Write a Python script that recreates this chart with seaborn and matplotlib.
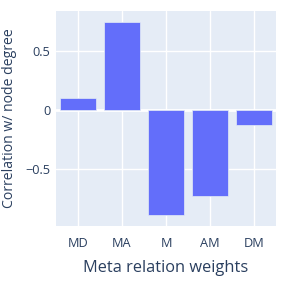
import matplotlib
matplotlib.use("Agg")
import matplotlib.pyplot as plt
import seaborn as sns
import pandas as pd

# values
relations = ["MD", "MA", "M", "AM", "DM"]
correlation = [0.099, 0.739, -0.887, -0.727, -0.124]

df = pd.DataFrame({"relation": relations, "corr": correlation})

sns.set_style("darkgrid")
plt.rcParams["font.family"] = ["Open Sans", "DejaVu Sans"]
plt.rcParams["axes.unicode_minus"] = True

text_col = "#2a3f5f"
bg = "#E5ECF6"

fig = plt.figure(figsize=(2.83, 2.83), dpi=100)
ax = fig.add_axes([56 / 283, 57 / 283, 220 / 283, 215 / 283])
ax.set_facecolor(bg)

sns.barplot(data=df, x="relation", y="corr", color="#636efa", saturation=1,
            width=0.8, edgecolor=bg, linewidth=0.5, ax=ax, zorder=3)

ax.set_xlim(-0.5, 4.5)
ax.set_ylim(-0.977, 0.834)
ax.set_yticks([-0.5, 0, 0.5])
ax.set_yticklabels(["\u22120.5", "0", "0.5"])

ax.grid(True, color="white", linewidth=1, zorder=0)
ax.set_axisbelow(True)
ax.axhline(0, color="white", linewidth=2, zorder=2)
for s in ax.spines.values():
    s.set_visible(False)

ax.tick_params(axis="both", length=0, labelsize=9.2, colors=text_col)
ax.tick_params(axis="x", pad=8)
ax.tick_params(axis="y", pad=4)

ax.set_xlabel("Meta relation weights", fontsize=11.8, color=text_col, labelpad=7)
ax.set_ylabel("Correlation w/ node degree", fontsize=10.1, color=text_col, labelpad=6)

fig.savefig("out.png", dpi=100, facecolor="white")
